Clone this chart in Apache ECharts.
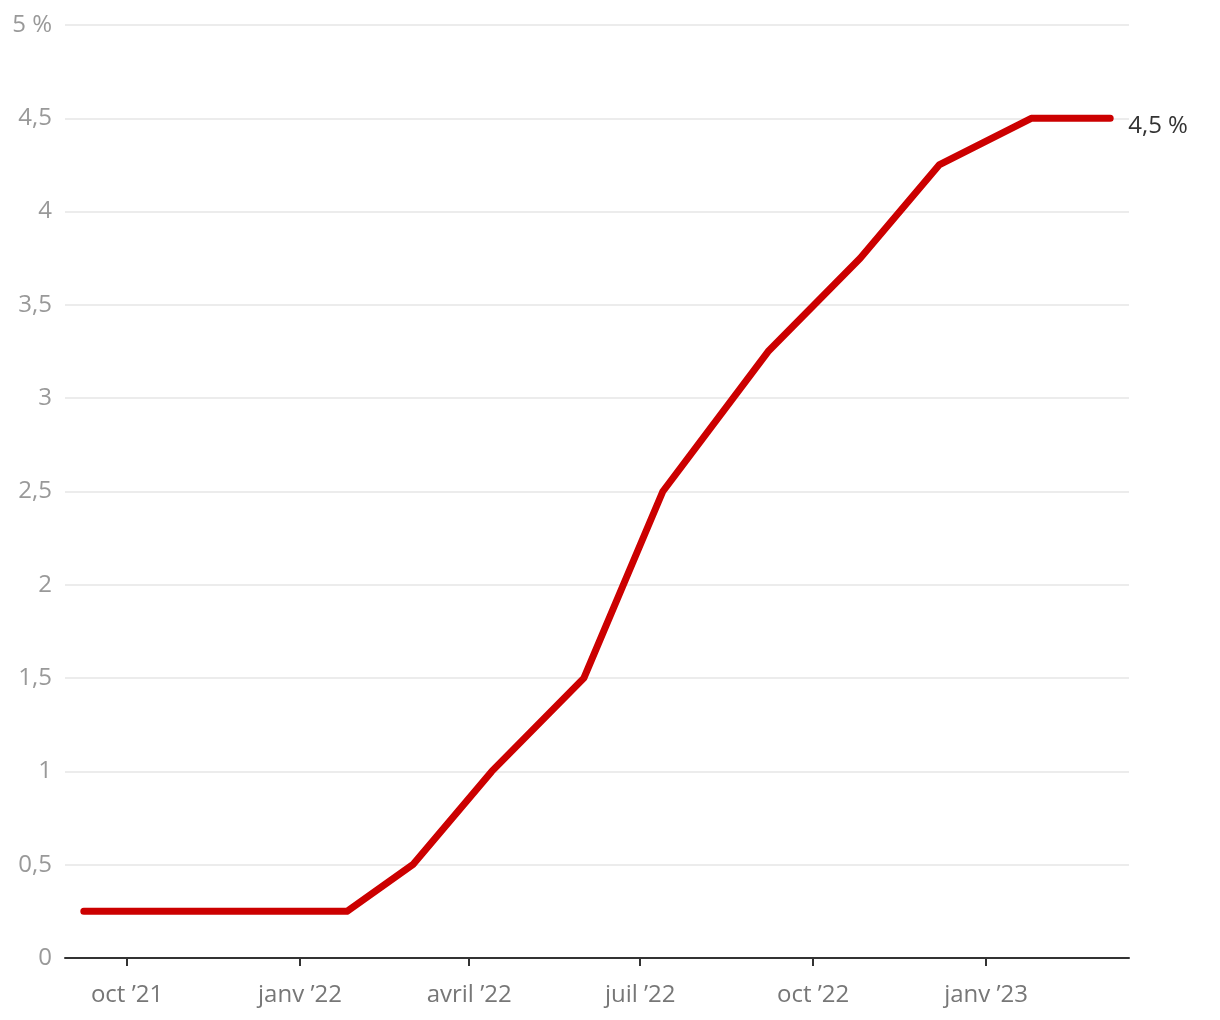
<!DOCTYPE html>
<html>
<head>
<meta charset="utf-8">
<script src="https://cdn.jsdelivr.net/npm/echarts@6/dist/echarts.min.js"></script>
<style>html,body{margin:0;padding:0;background:#fff}#c{width:1220px;height:1020px}</style>
</head>
<body>
<div id="c"></div>
<script>
const dates = ['2021-09-08','2021-10-27','2021-12-08','2022-01-26','2022-03-02','2022-04-13','2022-06-01','2022-07-13','2022-09-07','2022-10-26','2022-12-07','2023-01-25','2023-03-08'];
const rates = [0.25,0.25,0.25,0.25,0.5,1.0,1.5,2.5,3.25,3.75,4.25,4.5,4.5];
const tickDates = ['2021-10-01','2022-01-01','2022-04-01','2022-07-01','2022-10-01','2023-01-01'];
const tickLabels = ['oct ’21','janv ’22','avril ’22','juil ’22','oct ’22','janv ’23'];
const yTicks = [0,0.5,1,1.5,2,2.5,3,3.5,4,4.5,5];
const yLabels = ['0','0,5','1','1,5','2','2,5','3','3,5','4','4,5','5 %'];
const endText = '4,5 %';

const ts = s => { const p = s.split('-').map(Number); return Date.UTC(p[0], p[1]-1, p[2]); };
const tickTs = tickDates.map(ts);
const DAY = 86400000;
const font = 'Open Sans';

const chart = echarts.init(document.getElementById('c'));
chart.setOption({
  animation: false,
  grid: {left: 65, right: 91, top: 25, bottom: 62, containLabel: false},
  xAxis: {
    type: 'value',
    min: ts(dates[0]) - 10*DAY,
    max: ts(dates[dates.length-1]) + 10*DAY,
    axisLine: {show: true, lineStyle: {color: '#333', width: 2}},
    axisTick: {show: true, customValues: tickTs, length: 8, lineStyle: {color: '#333', width: 2}},
    axisLabel: {
      customValues: tickTs,
      color: '#777', fontSize: 24, fontFamily: font, margin: 25,
      formatter: v => { const i = tickTs.indexOf(v); return i >= 0 ? tickLabels[i] : ''; }
    },
    splitLine: {show: false}
  },
  yAxis: {
    type: 'value', min: 0, max: 5, interval: 0.5,
    axisLine: {show: false}, axisTick: {show: false},
    axisLabel: {
      color: '#999', fontSize: 24, fontFamily: font, margin: 13,
      formatter: v => { const i = yTicks.findIndex(t => Math.abs(t - v) < 1e-9); return i >= 0 ? yLabels[i] : ''; }
    },
    splitLine: {lineStyle: {color: '#e6e6e6', width: 1.5}}
  },
  series: [{
    type: 'line',
    data: dates.map((d, i) => [ts(d), rates[i]]),
    showSymbol: false,
    symbol: 'none',
    lineStyle: {color: '#cc0000', width: 7, cap: 'round', join: 'round'},
    endLabel: {show: true, formatter: endText, color: '#333', fontSize: 24, fontFamily: font, distance: 18, offset: [0, 8]}
  }]
});
</script>
</body>
</html>
